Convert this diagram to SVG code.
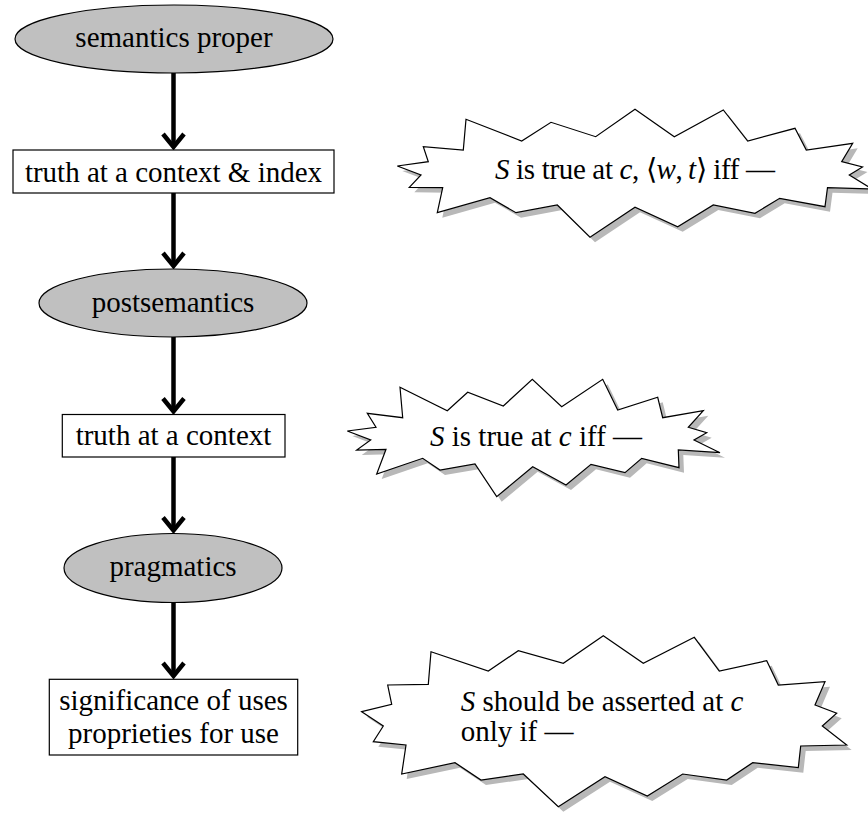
<svg xmlns="http://www.w3.org/2000/svg" xmlns:xlink="http://www.w3.org/1999/xlink" width="868" height="814" viewBox="0 0 868 814">
<style>
.t{font-family:"Liberation Serif","Times New Roman",serif;font-size:29px;fill:#000}
.c{text-anchor:middle}
.i{font-style:italic}
.ell{fill:#c0c0c0;stroke:#000;stroke-width:1.2}
.box{fill:#fff;stroke:#000;stroke-width:1.2}
.burst{fill:#fff;stroke:#000;stroke-width:1.2;stroke-linejoin:miter}
.shadow{fill:#b8b8b8;stroke:none}
.edge{fill:none;stroke:#000;stroke-width:4.5}
</style>
<defs>
<marker id="chev" markerUnits="userSpaceOnUse" markerWidth="40" markerHeight="40" refX="0" refY="0" orient="auto" overflow="visible" viewBox="-20 -20 40 40">
<path d="M-13,-10.5 L0,0 L-13,10.5" fill="none" stroke="#000" stroke-width="4.5"/>
</marker>
<polygon id="s1" points="397.3,166 428.3,161.7 423.3,146.7 463.3,150 466,119.3 521.7,141 551,122.3 595.7,136.7 635,109.3 674.3,136.7 723.3,110 747.7,141 795,128.3 806.3,150 852.7,143.3 841.7,161.7 862.5,167 849.3,175 872,189 827.5,187.7 825,206.7 779.7,198.3 755,213.3 713.3,205 677.7,226.7 635,207.3 590,237.3 557.3,205 516,212.7 490,197.7 437.3,212.7 442.7,187.7 409.3,187.3 421,175"/>
<polygon id="s2" points="347.3,431 376,427.3 367.3,413.3 402.7,417.7 400,387.3 447.3,410.7 467.7,392.3 503.3,406 532.3,379.3 561.7,406.7 602.7,379.3 617.7,410 657.7,397.3 662.7,417.7 703.3,410.7 688.3,427.3 706.7,432.7 694,440 720,452.7 678.3,450 679,467.7 641.7,458.3 625,472.7 591,464.3 566,485 532.7,466.7 496.7,496.7 475,464 440,470 422.7,458.3 376.7,474 386,449.3 356.7,450 370.7,440"/>
<polygon id="s3" points="361.7,711.7 391.7,704.3 387.7,685 428.3,684.3 431,651.7 488.3,671 518.3,650.7 563.3,663.3 603.3,635.7 643.3,663.3 694.3,637.3 719.3,671 766.7,660.7 778.3,685 825,681.7 815,705 836.7,713.3 822.3,726 846.7,745 800.7,746 798.3,767.7 752.7,762.7 726.7,780 682.7,774 647.3,796 605,776.7 558.3,806.7 523.3,774 481,780 455,762.7 401.7,774 406,745 373.3,741.7 383.3,726"/>
</defs>
<rect width="868" height="814" fill="#fff"/>
<g id="connectors">
<path class="edge" d="M173.5,73 V147" marker-end="url(#chev)"/>
<path class="edge" d="M173.5,193 V266" marker-end="url(#chev)"/>
<path class="edge" d="M173.5,337 V411.5" marker-end="url(#chev)"/>
<path class="edge" d="M173.5,457 V530.5" marker-end="url(#chev)"/>
<path class="edge" d="M173.5,602 V676" marker-end="url(#chev)"/>
</g>
<g id="semantics-proper">
<ellipse class="ell" cx="174" cy="39" rx="159" ry="34"/>
<text class="t c" x="174" y="47">semantics proper</text>
</g>
<g id="truth-context-index">
<rect class="box" x="13" y="150" width="321" height="43"/>
<text class="t c" x="173.5" y="182">truth at a context &amp; index</text>
</g>
<g id="postsemantics">
<ellipse class="ell" cx="173" cy="303" rx="134" ry="34"/>
<text class="t c" x="173" y="312">postsemantics</text>
</g>
<g id="truth-context">
<rect class="box" x="62.3" y="414.5" width="222.7" height="42.5"/>
<text class="t c" x="173.5" y="445">truth at a context</text>
</g>
<g id="pragmatics">
<ellipse class="ell" cx="173" cy="568" rx="109" ry="34.5"/>
<text class="t c" x="173" y="576">pragmatics</text>
</g>
<g id="significance">
<rect class="box" x="49.3" y="679.3" width="248.4" height="75.7"/>
<text class="t c" x="173.5" y="710">significance of uses</text>
<text class="t c" x="173.5" y="743">proprieties for use</text>
</g>
<g id="burst-index">
<use xlink:href="#s1" class="shadow" transform="translate(5,5)"/>
<use xlink:href="#s1" class="burst"/>
<text class="t" x="495" y="179" textLength="280" lengthAdjust="spacing"><tspan class="i">S</tspan> is true at <tspan class="i">c</tspan>, ⟨<tspan class="i">w</tspan>,&#8201;<tspan class="i">t</tspan>⟩ iff —</text>
</g>
<g id="burst-context">
<use xlink:href="#s2" class="shadow" transform="translate(5,5)"/>
<use xlink:href="#s2" class="burst"/>
<text class="t" x="430" y="446"><tspan class="i">S</tspan> is true at <tspan class="i">c</tspan> iff —</text>
</g>
<g id="burst-assert">
<use xlink:href="#s3" class="shadow" transform="translate(5,5)"/>
<use xlink:href="#s3" class="burst"/>
<text class="t" x="460.7" y="710.5"><tspan class="i">S</tspan> should be asserted at <tspan class="i">c</tspan></text>
<text class="t" x="460.7" y="740.5">only if —</text>
</g>
</svg>
